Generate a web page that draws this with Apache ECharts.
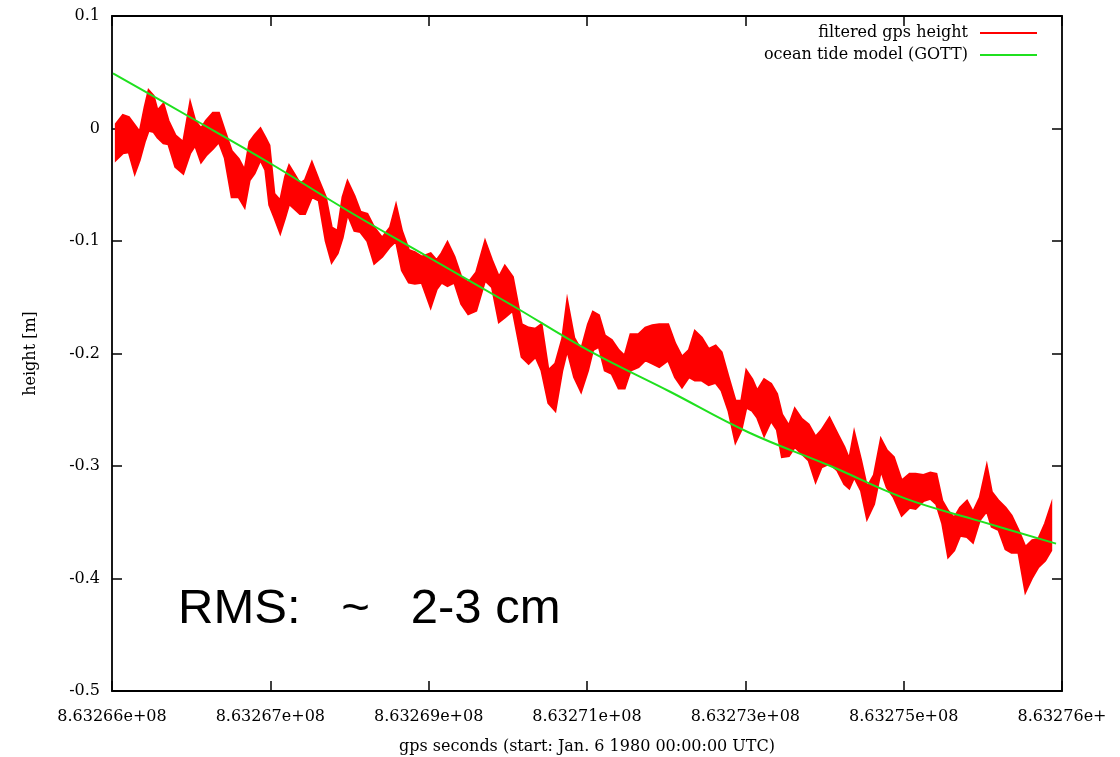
<!DOCTYPE html>
<html>
<head>
<meta charset="utf-8">
<script src="https://cdn.jsdelivr.net/npm/echarts@6/dist/echarts.min.js"></script>
<style>
  html, body { margin: 0; padding: 0; background: #fff; }
  #chart { width: 1120px; height: 757px; }
</style>
</head>
<body>
<div id="chart"></div>
<script>
// x in units of 1/160 of a tick step, y in metres
const xTickLabels = ["8.63266e+08", "8.63267e+08", "8.63269e+08", "8.63271e+08",
    "8.63273e+08", "8.63275e+08", "8.63276e+"];
const seriesNames = ["filtered gps height", "ocean tide model (GOTT)"];

// filtered gps height: the noisy red trace, read as top / bottom of the band at each x
const gpsX = [
    4,11,17,23,28,33,37,42,46,52, 57,64,72,79,84,90,95,102,108,114,
    121,128,134,139,144,150,155,159,164,170, 175,179,184,190,195,202,209,216,222,228,
    233,238,245,251,258,265,273,281,287,293, 300,306,313,322,328,333,339,346,353,360,
    368,377,384,391,397,405,414,421,428,434, 441,448,455,460,467,474,481,486,492,498,
    505,512,518,524,532,539,546,553,562,569, 576,583,589,596,603,610,616,623,630,636,
    641,647,652,659,666,672,677,684,690,697, 704,711,717,725,733,740,745,750,757,763,
    770,777,783,790,798,806,812,820,827,833, 839,845,851,857,864,870,877,884,889,896,
    903,909,916,923,930,936,943,949
];
const gpsHigh = [
    0.004,0.012,0.010,0.003,-0.003,0.019,0.034,0.029,0.016,0.022,
    0.007,-0.006,-0.012,0.023,0.007,0.000,0.007,0.014,0.014,-0.002,
    -0.020,-0.027,-0.037,-0.012,-0.006,0.000,-0.008,-0.015,-0.058,-0.064,
    -0.043,-0.033,-0.040,-0.049,-0.046,-0.030,-0.046,-0.061,-0.088,-0.091,
    -0.061,-0.047,-0.060,-0.074,-0.076,-0.088,-0.097,-0.088,-0.068,-0.091,
    -0.108,-0.110,-0.114,-0.111,-0.117,-0.111,-0.101,-0.114,-0.132,-0.137,
    -0.128,-0.100,-0.117,-0.132,-0.122,-0.132,-0.174,-0.177,-0.178,-0.174,
    -0.215,-0.209,-0.187,-0.153,-0.186,-0.197,-0.174,-0.163,-0.166,-0.184,
    -0.188,-0.197,-0.202,-0.183,-0.183,-0.177,-0.175,-0.174,-0.174,-0.191,
    -0.203,-0.197,-0.180,-0.186,-0.196,-0.193,-0.199,-0.221,-0.242,-0.242,
    -0.215,-0.223,-0.233,-0.223,-0.227,-0.236,-0.254,-0.264,-0.249,-0.258,
    -0.263,-0.274,-0.268,-0.257,-0.271,-0.283,-0.294,-0.270,-0.295,-0.319,
    -0.308,-0.276,-0.286,-0.292,-0.313,-0.307,-0.307,-0.308,-0.306,-0.307,
    -0.331,-0.340,-0.346,-0.337,-0.331,-0.341,-0.328,-0.300,-0.323,-0.331,
    -0.337,-0.344,-0.357,-0.372,-0.366,-0.365,-0.351,-0.335
];
const gpsLow = [
    -0.028,-0.022,-0.021,-0.040,-0.028,-0.012,-0.002,-0.003,-0.008,-0.013,
    -0.014,-0.034,-0.040,-0.022,-0.015,-0.030,-0.024,-0.018,-0.012,-0.026,
    -0.061,-0.061,-0.070,-0.046,-0.040,-0.028,-0.037,-0.068,-0.079,-0.093,
    -0.079,-0.067,-0.071,-0.076,-0.076,-0.061,-0.064,-0.100,-0.119,-0.111,
    -0.097,-0.076,-0.091,-0.092,-0.100,-0.120,-0.114,-0.105,-0.100,-0.126,
    -0.137,-0.138,-0.137,-0.159,-0.143,-0.137,-0.140,-0.137,-0.156,-0.165,
    -0.162,-0.135,-0.141,-0.172,-0.168,-0.162,-0.203,-0.209,-0.203,-0.215,
    -0.244,-0.251,-0.215,-0.197,-0.221,-0.234,-0.215,-0.197,-0.194,-0.215,
    -0.218,-0.231,-0.231,-0.215,-0.212,-0.206,-0.209,-0.212,-0.206,-0.221,
    -0.230,-0.221,-0.224,-0.224,-0.228,-0.226,-0.233,-0.251,-0.279,-0.268,
    -0.248,-0.251,-0.257,-0.273,-0.260,-0.268,-0.292,-0.291,-0.283,-0.289,
    -0.295,-0.314,-0.301,-0.298,-0.304,-0.316,-0.320,-0.310,-0.322,-0.347,
    -0.334,-0.304,-0.319,-0.328,-0.344,-0.337,-0.338,-0.331,-0.329,-0.334,
    -0.351,-0.381,-0.375,-0.362,-0.363,-0.368,-0.348,-0.340,-0.354,-0.357,
    -0.374,-0.377,-0.377,-0.412,-0.399,-0.390,-0.384,-0.375
];

// ocean tide model (smooth green curve)
const tideX = [1, 79, 158, 240, 319, 402, 481, 564, 643, 726, 802, 877, 954];
const tideHeight = [0.049, 0.010, -0.030, -0.074, -0.114, -0.156, -0.197,
    -0.234, -0.270, -0.300, -0.329, -0.349, -0.369];

const gpsData = gpsX.map((x, i) => [x, gpsHigh[i], gpsLow[i]]);
const tideData = tideX.map((x, i) => [x, tideHeight[i]]);

const gpFont = "DejaVu Serif";
const textStyle = { color: "#000", fontFamily: gpFont, fontSize: 16 };
const red = "#ff0000";

const chart = echarts.init(document.getElementById("chart"), null, { renderer: "canvas" });

const xBase = {
    type: "value", min: 0, max: 960, interval: 160,
    axisLine: { show: true, onZero: false, lineStyle: { color: "#000", width: 1.8 } },
    axisTick: { show: true, inside: true, length: 10, lineStyle: { color: "#000", width: 1.5 } },
    splitLine: { show: false }
};
const yBase = {
    type: "value", min: -0.5, max: 0.1, interval: 0.1,
    axisLine: { show: true, onZero: false, lineStyle: { color: "#000", width: 1.8 } },
    axisTick: { show: true, inside: true, length: 10, lineStyle: { color: "#000", width: 1.5 } },
    splitLine: { show: false }
};

// the gps trace drawn as one band: top edge left to right, bottom edge back
function renderGpsBand(params, api) {
    if (params.dataIndex !== 0) return null;
    const pts = [];
    for (let i = 0; i < gpsData.length; i++) pts.push(api.coord([gpsData[i][0], gpsData[i][1]]));
    for (let i = gpsData.length - 1; i >= 0; i--) pts.push(api.coord([gpsData[i][0], gpsData[i][2]]));
    return {
        type: "polygon",
        shape: { points: pts },
        style: { fill: red, stroke: red, lineWidth: 2.2, lineJoin: "miter" }
    };
}

chart.setOption({
    animation: false,
    backgroundColor: "#fff",
    grid: { left: 112, right: 58, top: 16, bottom: 66, outerBoundsMode: "none" },
    legend: [
        {
            data: [seriesNames[0]], right: 83, top: 25, padding: 0, align: "right",
            icon: "rect", itemWidth: 57, itemHeight: 2,
            textStyle: Object.assign({ padding: [0, 7, 0, 0] }, textStyle)
        },
        {
            data: [seriesNames[1]], right: 83, top: 47, padding: 0, align: "right",
            icon: "rect", itemWidth: 57, itemHeight: 2,
            textStyle: Object.assign({ padding: [0, 7, 0, 0] }, textStyle)
        }
    ],
    xAxis: [
        Object.assign({}, xBase, {
            position: "bottom",
            name: "gps seconds (start: Jan. 6 1980 00:00:00 UTC)",
            nameLocation: "middle", nameGap: 48,
            nameTextStyle: textStyle,
            axisLabel: Object.assign({
                margin: 18,
                formatter: v => xTickLabels[Math.round(v / 160)]
            }, textStyle)
        }),
        Object.assign({}, xBase, { position: "top", axisLabel: { show: false } })
    ],
    yAxis: [
        Object.assign({}, yBase, {
            position: "left",
            name: "height [m]",
            nameLocation: "middle", nameGap: 73,
            nameTextStyle: textStyle,
            axisLabel: Object.assign({
                margin: 12,
                formatter: v => String(Math.round(v * 10) / 10)
            }, textStyle)
        }),
        Object.assign({}, yBase, { position: "right", axisLabel: { show: false } })
    ],
    series: [
        {
            name: seriesNames[0], type: "custom",
            data: gpsData,
            encode: { x: 0, y: [1, 2] },
            renderItem: renderGpsBand,
            itemStyle: { color: red },
            clip: true,
            z: 2
        },
        {
            name: seriesNames[1], type: "line", data: tideData,
            showSymbol: false, symbol: "none", smooth: 0.4,
            color: "#1fe01f",
            lineStyle: { color: "#1fe01f", width: 2 },
            z: 3
        }
    ],
    graphic: [
        {
            type: "text", left: 178, top: 585,
            style: { text: "RMS:   ~   2-3 cm", fontFamily: "Liberation Sans", fontSize: 49, fill: "#000" }
        }
    ]
});
</script>
</body>
</html>
